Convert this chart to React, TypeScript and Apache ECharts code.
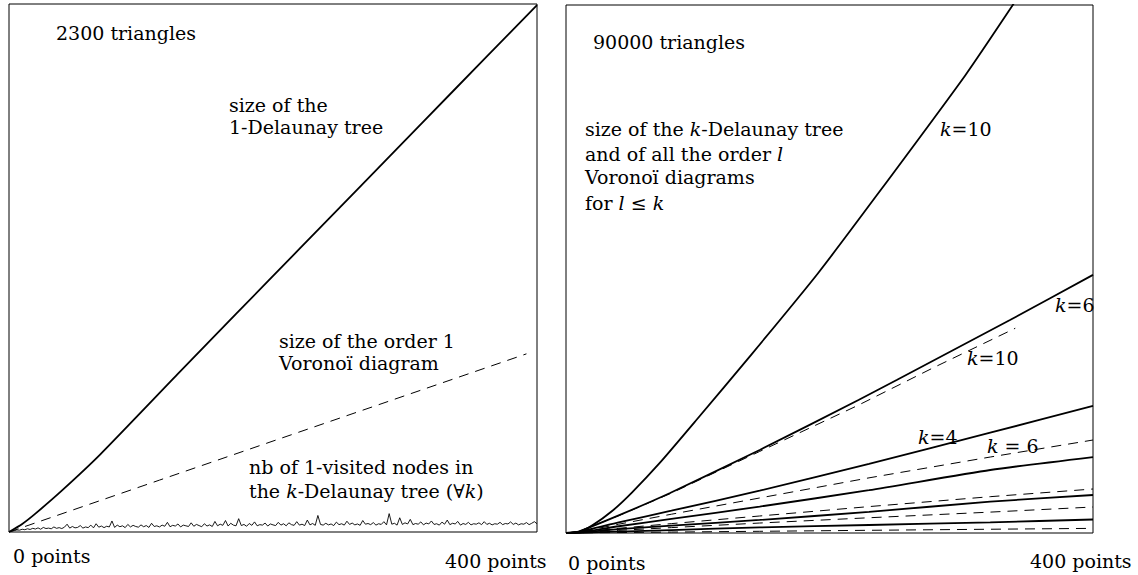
import React, { useEffect, useRef } from "react";
import * as echarts from "echarts";

// ---------- axes ----------
const X_MAX = 400; // points
const LEFT_Y_MAX = 2300; // triangles
const RIGHT_Y_MAX = 90000; // triangles

// ---------- left panel (2300 triangles) ----------
// size of the 1-Delaunay tree: [points, triangles]
const leftDelaunay1: [number, number][] = [
  [0, 0], [10, 35], [20, 80], [40, 180], [69, 337], [129, 695],
  [172, 950], [220, 1233], [264, 1493], [313, 1782], [360, 2060], [400, 2295],
];
// size of the order 1 Voronoi diagram
const leftVoronoi1: [number, number][] = [
  [0, 0], [114, 226], [392, 776],
];
// nb of 1-visited nodes, sampled every 2 points from 0 to 400
const VISITED_STEP = 2;
const leftVisited: number[] = [
  0, 3, 6, 9, 8, 12, 10, 14, 11, 16, 13, 18, 12, 20, 15, 17, 14, 22, 16, 19,
  15, 21, 34, 17, 24, 18, 20, 28, 17, 22, 19, 30, 18, 36, 21, 26, 19, 25, 22, 48,
  20, 30, 23, 27, 19, 33, 22, 29, 24, 21, 31, 23, 28, 20, 38, 24, 27, 22, 30, 25,
  42, 23, 29, 26, 35, 22, 30, 27, 24, 40, 25, 33, 28, 23, 36, 26, 31, 24, 46, 27,
  34, 29, 50, 26, 38, 30, 27, 58, 28, 33, 25, 37, 29, 44, 27, 32, 30, 39, 26, 35,
  31, 28, 42, 30, 36, 27, 40, 32, 29, 45, 30, 34, 28, 52, 31, 37, 29, 72, 33, 30,
  38, 31, 35, 28, 43, 32, 36, 30, 47, 33, 39, 31, 35, 29, 50, 34, 37, 32, 41, 30,
  36, 33, 45, 31, 80, 34, 38, 30, 62, 33, 40, 35, 55, 32, 37, 34, 44, 31, 39, 35,
  48, 33, 36, 30, 43, 34, 52, 32, 38, 35, 46, 30, 37, 33, 42, 31, 36, 34, 40, 32,
  45, 33, 38, 31, 36, 34, 42, 32, 37, 35, 44, 33, 39, 31, 36, 34, 41, 32, 38, 45,
  36,
];

// ---------- right panel (90000 triangles) ----------
// size of the k-Delaunay tree
const treeK10: [number, number][] = [
  [0, 0], [10, 200], [20, 1300], [35, 3750], [50, 6900], [71, 11900], [98, 19000],
  [141, 30500], [191, 44200], [236, 57600], [303, 78000], [340, 90300],
];
const treeK6: [number, number][] = [
  [0, 0], [10, 300], [40, 3000], [79, 6820], [147, 14150], [222, 22670],
  [251, 26080], [337, 36300], [400, 44000],
];
const treeK4: [number, number][] = [
  [0, 0], [10, 200], [40, 1800], [80, 3800], [147, 7210], [230, 11800],
  [322, 17100], [400, 21650],
];
const treeK3: [number, number][] = [
  [0, 0], [10, 120], [40, 1150], [80, 2400], [147, 4500], [230, 7300],
  [322, 10740], [400, 12950],
];
const treeK2: [number, number][] = [
  [0, 0], [10, 80], [40, 650], [80, 1250], [147, 2220], [230, 3600],
  [322, 5340], [400, 6480],
];
const treeK1: [number, number][] = [
  [0, 0], [10, 40], [40, 240], [80, 500], [147, 950], [230, 1360],
  [322, 1820], [400, 2300],
];
// size of the order l Voronoi diagrams
const voronoiK10: [number, number][] = [
  [0, 0], [10, 300], [40, 2950], [79, 6700], [147, 13900], [222, 21800],
  [280, 28300], [341, 34900],
];
const voronoiK6: [number, number][] = [
  [0, 0], [10, 150], [40, 1500], [80, 3200], [147, 5970], [230, 9400],
  [322, 12950], [400, 15850],
];
const voronoiK4: [number, number][] = [
  [0, 0], [10, 100], [40, 800], [80, 1600], [147, 2900], [230, 4500],
  [322, 6190], [400, 7500],
];
const voronoiK2: [number, number][] = [
  [0, 0], [10, 60], [40, 450], [80, 920], [147, 1700], [230, 2600],
  [322, 3560], [400, 4430],
];
const voronoiK1: [number, number][] = [
  [0, 0], [20, 30], [80, 160], [147, 290], [230, 460], [322, 640], [400, 790],
];

// ---------- texts ----------
const FONT = "'DejaVu Serif', 'Liberation Serif', serif";
const FS = 19;

export default function App() {
  const ref = useRef<HTMLDivElement>(null);

  useEffect(() => {
    if (!ref.current) return;
    const chart = echarts.init(ref.current, undefined, { renderer: "svg" });

    const line = (data: [number, number][], g: number, name: string, dashed: boolean) => ({
      type: "line",
      name,
      xAxisIndex: g,
      yAxisIndex: g,
      data,
      symbol: "none",
      showSymbol: false,
      smooth: dashed ? false : 0.2,
      clip: true,
      silent: true,
      lineStyle: dashed
        ? { color: "#000", width: 1, type: [10, 7] }
        : { color: "#000", width: 1.8, type: "solid" },
      z: dashed ? 2 : 3,
    });

    const rich = {
      i: { fontStyle: "italic", fontFamily: FONT, fontSize: FS, fill: "#000" },
      r: { fontFamily: FONT, fontSize: FS, fill: "#000" },
    };
    const txt = (text: string, x: number, y: number) => ({
      type: "text",
      x,
      y,
      z: 10,
      silent: true,
      style: {
        text,
        fill: "#000",
        font: `${FS}px ${FONT}`,
        fontFamily: FONT,
        fontSize: FS,
        textAlign: "left",
        textVerticalAlign: "middle",
        rich,
      },
    });

    chart.setOption({
      animation: false,
      backgroundColor: "#fff",
      grid: [
        { left: 9, top: 4, width: 528, height: 528, show: true, borderColor: "#000", borderWidth: 1, backgroundColor: "transparent" },
        { left: 566, top: 5, width: 527, height: 528, show: true, borderColor: "#000", borderWidth: 1, backgroundColor: "transparent" },
      ],
      xAxis: [
        { gridIndex: 0, type: "value", min: 0, max: X_MAX, show: false },
        { gridIndex: 1, type: "value", min: 0, max: X_MAX, show: false },
      ],
      yAxis: [
        { gridIndex: 0, type: "value", min: 0, max: LEFT_Y_MAX, show: false },
        { gridIndex: 1, type: "value", min: 0, max: RIGHT_Y_MAX, show: false },
      ],
      series: [
        line(leftDelaunay1, 0, "size of the 1-Delaunay tree", false),
        line(leftVoronoi1, 0, "size of the order 1 Voronoi diagram", true),
        {
          type: "line",
          name: "nb of 1-visited nodes",
          xAxisIndex: 0,
          yAxisIndex: 0,
          data: leftVisited.map((v, i) => [i * VISITED_STEP, v]),
          symbol: "none",
          showSymbol: false,
          clip: true,
          silent: true,
          lineStyle: { color: "#000", width: 0.9 },
          z: 3,
        },
        line(treeK10, 1, "k=10 tree", false),
        line(treeK6, 1, "k=6 tree", false),
        line(treeK4, 1, "k=4 tree", false),
        line(treeK3, 1, "k=3 tree", false),
        line(treeK2, 1, "k=2 tree", false),
        line(treeK1, 1, "k=1 tree", false),
        line(voronoiK10, 1, "order 10 Voronoi", true),
        line(voronoiK6, 1, "order 6 Voronoi", true),
        line(voronoiK4, 1, "order 4 Voronoi", true),
        line(voronoiK2, 1, "order 2 Voronoi", true),
        line(voronoiK1, 1, "order 1 Voronoi", true),
      ],
      graphic: [
        txt("{r|2300 triangles}", 56, 33),
        txt("{r|size of the}", 229, 105),
        txt("{r|1-Delaunay tree}", 229, 127),
        txt("{r|size of the order 1}", 279, 341),
        txt("{r|Voronoï diagram}", 279, 363),
        txt("{r|nb of 1-visited nodes in}", 249, 467),
        txt("{r|the }{i|k}{r|-Delaunay tree (∀}{i|k}{r|)}", 249, 491),
        txt("{r|0 points}", 13, 556),
        txt("{r|400 points}", 445, 561),
        txt("{r|90000 triangles}", 593, 42),
        txt("{r|size of the }{i|k}{r|-Delaunay tree}", 585, 129),
        txt("{r|and of all the order }{i|l}", 585, 154),
        txt("{r|Voronoï diagrams}", 585, 177),
        txt("{r|for }{i|l}{r| ≤ }{i|k}", 585, 203),
        txt("{i|k}{r|=10}", 940, 129),
        txt("{i|k}{r|=6}", 1055, 305),
        txt("{i|k}{r|=10}", 967, 358),
        txt("{i|k}{r|=4}", 918, 437),
        txt("{i|k}{r| = 6}", 987, 446),
        txt("{r|0 points}", 568, 563),
        txt("{r|400 points}", 1030, 561),
      ],
    });

    return () => chart.dispose();
  }, []);

  return (
    <div
      ref={ref}
      style={{ position: "absolute", left: 0, top: 0, width: 1138, height: 575 }}
    />
  );
}
